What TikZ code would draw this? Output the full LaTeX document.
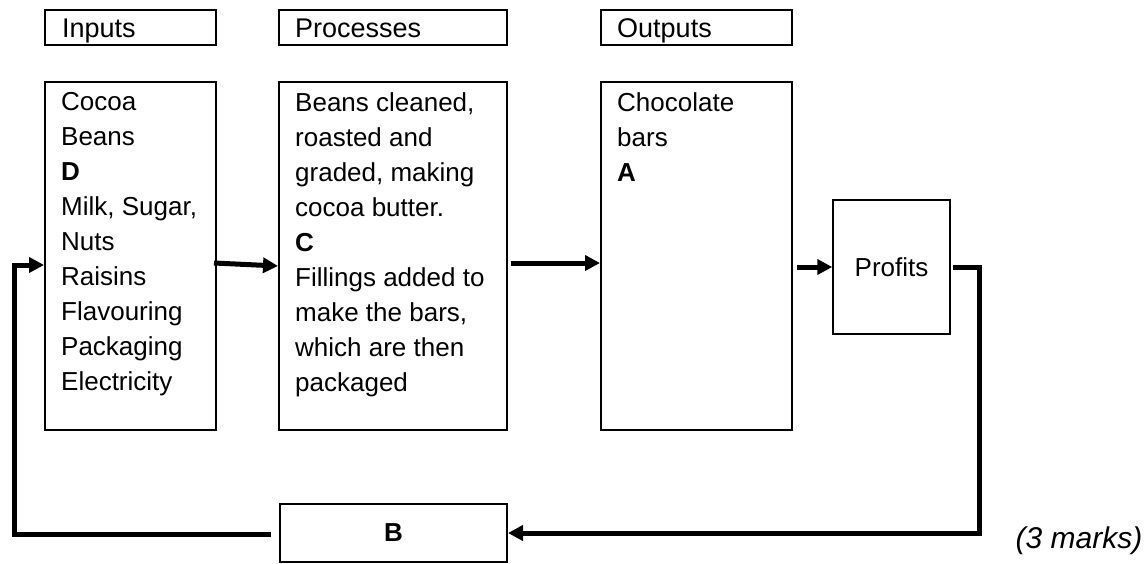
\documentclass[tikz,border=0pt]{standalone}
\usepackage{fontspec}
\setmainfont{Liberation Sans}
\usetikzlibrary{arrows.meta}
\begin{document}
\begin{tikzpicture}[x=1pt,y=-1pt,
  box/.style={draw, line width=2pt, inner sep=0pt, rectangle},
  txt/.style={inner sep=0pt, align=left, anchor=north west, font=\fontsize{26}{35}\selectfont},
  head/.style={inner sep=0pt, anchor=base west, font=\fontsize{27}{32}\selectfont},
  conn/.style={line width=5pt, -{Triangle[length=15pt,width=15pt]}},
  plainline/.style={line width=5pt}]
\useasboundingbox (0,0) rectangle (1148,563);
% headers
\node[box, minimum width=171pt, minimum height=35pt] (hin) at (130.5,27.5) {};
\node[box, minimum width=228pt, minimum height=35pt] (hproc) at (393,27.5) {};
\node[box, minimum width=191pt, minimum height=35pt] (hout) at (696.5,27.5) {};
\node[head] (hinT) at (62,37) {Inputs};
\node[head] (hprocT) at (295,37) {Processes};
\node[head] (houtT) at (617,37) {Outputs};
% main boxes
\node[box, minimum width=171pt, minimum height=348pt] (in) at (130.5,256) {};
\node[box, minimum width=228pt, minimum height=348pt] (proc) at (393,256) {};
\node[box, minimum width=191pt, minimum height=348pt] (out) at (696.5,256) {};
\node[txt] (inT) at (61,92) {Cocoa\\Beans\\\textbf{D}\\Milk, Sugar,\\Nuts\\Raisins\\Flavouring\\Packaging\\Electricity};
\node[txt] (procT) at (295,92) {Beans cleaned,\\roasted and\\graded, making\\cocoa butter.\\\textbf{C}\\Fillings added to\\make the bars,\\which are then\\packaged};
\node[txt] (outT) at (617,92) {Chocolate\\bars\\\textbf{A}};
% profits and B
\node[box, line width=1.5pt, minimum width=117pt, minimum height=134pt, font=\fontsize{26}{30}\selectfont] (prof) at (891.5,267) {Profits};
\node[box, minimum width=227pt, minimum height=58pt, font=\fontsize{26}{30}\selectfont\bfseries] (B) at (393.5,533) {B};
\node[inner sep=0pt, font=\fontsize{30}{34}\selectfont\itshape] (marks) at (1079,541) {(3 marks)};
% connectors
\draw[conn] ([xshift=-3pt,yshift=-7pt]in.east) -- ([yshift=-10pt]proc.west);
\draw[conn] ([xshift=3pt,yshift=-7pt]proc.east) -- ([yshift=-7pt]out.west);
\draw[conn] ([xshift=4pt,yshift=-11pt]out.east) -- (prof.west);
\coordinate (fbR) at (979,533);
\coordinate (fbL) at (14,534);
\draw[conn] ([xshift=2pt]prof.east) -| (fbR) -- (B.east);
\draw[conn] ([xshift=-8pt,yshift=-1pt]B.west) -- (fbL) |- ([yshift=-9pt]in.west);
\end{tikzpicture}
\end{document}
